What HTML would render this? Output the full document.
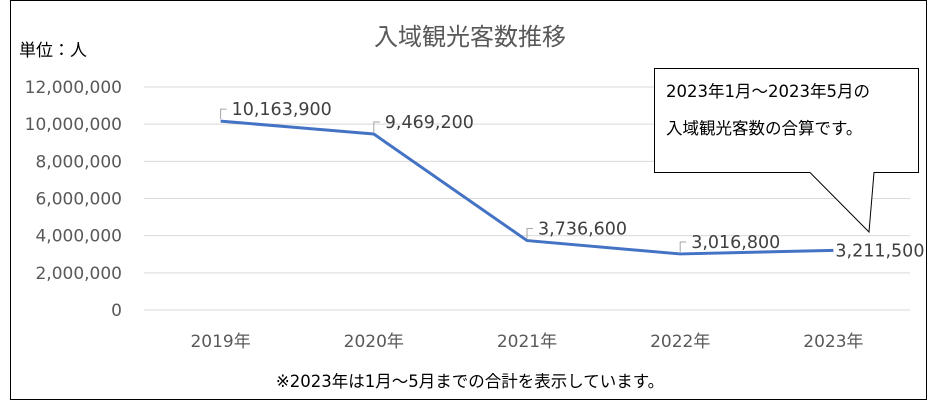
<!DOCTYPE html>
<html><head><meta charset="utf-8"><style>
body{margin:0;background:#fff;}
svg{display:block;font-family:"DejaVu Sans","Noto Sans CJK JP",sans-serif;}
</style></head><body>
<svg id="chart" width="932" height="420" xmlns="http://www.w3.org/2000/svg">
<rect x="10.5" y="0.5" width="916" height="399" fill="#fff" stroke="#000" stroke-width="1"/>
<text x="470" y="45" text-anchor="middle" font-size="24" fill="#595959">入域観光客数推移</text>
<text x="19" y="56" font-size="17" fill="#000">単位：人</text>
<g id="grid"></g><g id="ylabels"></g><g id="xlabels"></g>
<path id="line" fill="none" stroke="#4472C4" stroke-width="3" stroke-linejoin="round"/>
<g id="dlabels"></g>
<g>
<path d="M654.5,68.5 L918.5,68.5 L918.5,172.5 L874,172.5 L869,232 L810,172.5 L654.5,172.5 Z" fill="#fff" stroke="#000" stroke-width="1"/>
<text x="666" y="97" font-size="16.5" fill="#000">2023年1月～2023年5月の</text>
<text x="666" y="134" font-size="16.5" fill="#000">入域観光客数の合算です。</text>
</g>
<text x="470" y="387" text-anchor="middle" font-size="16.5" fill="#000">※2023年は1月～5月までの合計を表示しています。</text>
</svg>
<script>
const categories=["2019年","2020年","2021年","2022年","2023年"];
const values=[10163900,9469200,3736600,3016800,3211500];
const valueLabels=["10,163,900","9,469,200","3,736,600","3,016,800","3,211,500"];
const yTicks=[0,2000000,4000000,6000000,8000000,10000000,12000000];
const yTickLabels=["0","2,000,000","4,000,000","6,000,000","8,000,000","10,000,000","12,000,000"];
const NS="http://www.w3.org/2000/svg";
const x0=144,x1=910,yBase=310,yTop=87,yMax=12000000;
const xs=i=>x0+(x1-x0)/categories.length*(i+0.5);
const ys=v=>yBase-(yBase-yTop)*v/yMax;
function mk(tag,attrs,parent){const e=document.createElementNS(NS,tag);for(const k in attrs)e.setAttribute(k,attrs[k]);document.getElementById(parent).appendChild(e);return e;}
yTicks.forEach((t,i)=>{
 const l=mk('line',{x1:x0,x2:x1,y1:ys(t),y2:ys(t),stroke:'#d9d9d9','stroke-width':1},'grid');
 
 
 const tx=mk('text',{x:122,y:ys(t)+6,'text-anchor':'end','font-size':17,fill:'#595959','textLength':0},'ylabels');
 tx.removeAttribute('textLength');
 tx.textContent=yTickLabels[i];
 
 
});
categories.forEach((c,i)=>{
 const tx=mk('text',{x:xs(i),y:347,'text-anchor':'middle','font-size':17,fill:'#595959'},'xlabels');
 tx.textContent=c;
 
 
});
document.getElementById('line').setAttribute('d',values.map((v,i)=>(i?'L':'M')+xs(i)+','+ys(v)).join(' '));
values.forEach((v,i)=>{
 const x=xs(i),y=ys(v);
 const last=i===values.length-1;
 if(!last){
  const b=mk('path',{d:`M${x},${y-2} L${x},${y-12} L${x+6},${y-12}`,fill:'none',stroke:'#a6a6a6','stroke-width':1},'dlabels');
  
  
 }
 const tx=mk('text',{x:last?x+2:x+11,y:last?y+6:y-6,'font-size':17.5,fill:'#404040'},'dlabels');
 tx.textContent=valueLabels[i];
 
 
});
</script>
</body></html>
